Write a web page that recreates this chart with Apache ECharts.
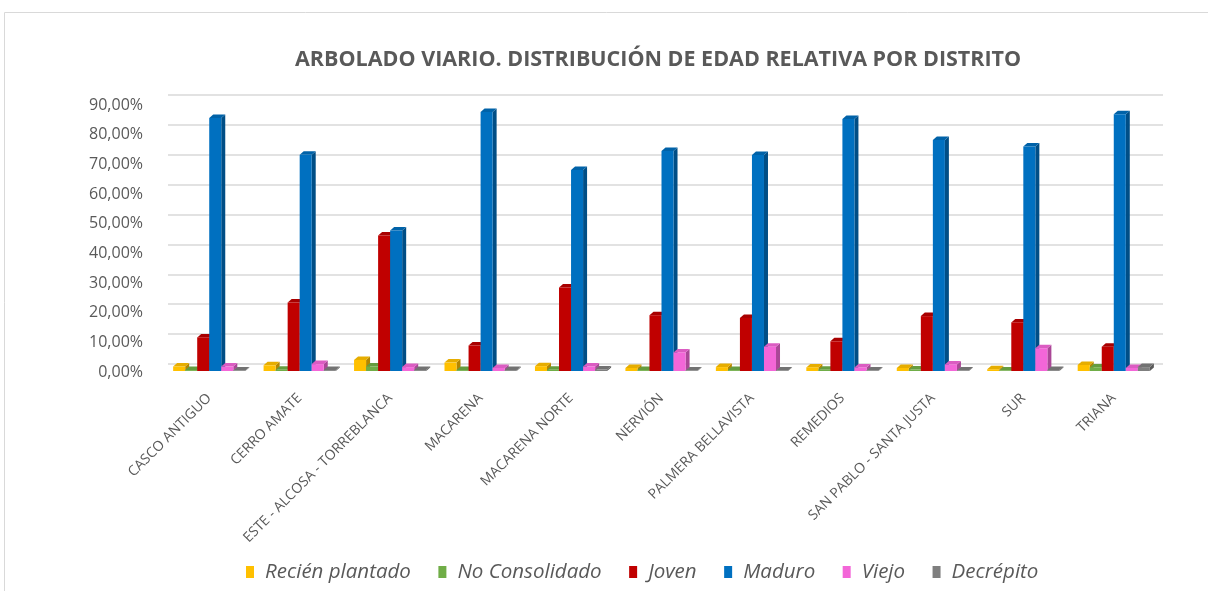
<!DOCTYPE html>
<html>
<head>
<meta charset="utf-8">
<script src="https://cdn.jsdelivr.net/npm/echarts@6/dist/echarts.min.js"></script>
<style>
html,body{margin:0;padding:0;background:#fff;}
#chart{width:1208px;height:591px;}
</style>
</head>
<body>
<div id="chart"></div>
<script>
var categories = ["CASCO ANTIGUO","CERRO AMATE","ESTE - ALCOSA - TORREBLANCA","MACARENA","MACARENA NORTE","NERVIÓN","PALMERA BELLAVISTA","REMEDIOS","SAN PABLO - SANTA JUSTA","SUR","TRIANA"];
var seriesNames = ["Recién plantado","No Consolidado","Joven","Maduro","Viejo","Decrépito"];
var recienPlantado = [1.5, 1.9, 3.7, 2.8, 1.6, 1.0, 1.3, 1.2, 1.0, 0.6, 2.0];
var noConsolidado  = [0.3, 0.4, 1.5, 0.3, 0.4, 0.3, 0.3, 0.4, 0.5, 0.2, 1.2];
var joven          = [11.2, 22.8, 45.2, 8.5, 27.8, 18.6, 17.7, 9.9, 18.3, 16.2, 8.1];
var maduro         = [84.3, 72.1, 46.8, 86.3, 67.0, 73.3, 72.0, 84.0, 77.0, 74.8, 85.6];
var viejo          = [1.5, 2.3, 1.3, 1.0, 1.5, 6.2, 8.1, 1.2, 2.2, 7.6, 1.0];
var decrepito      = [0.2, 0.3, 0.3, 0.3, 0.5, 0.2, 0.2, 0.2, 0.2, 0.3, 1.3];
var yTicks = [0,10,20,30,40,50,60,70,80,90];

var allValues = [recienPlantado, noConsolidado, joven, maduro, viejo, decrepito];
var colors = ["#FFC000","#70AD47","#C00000","#0070C0","#F366D8","#7F7F7F"];
var sideColors = ["#B38600","#4E7932","#860000","#004E86","#AA4797","#595959"];
var topColors = ["#E6AD00","#659C40","#A80000","#0062A8","#DB5CC2","#727272"];

var chart = echarts.init(document.getElementById('chart'));
var font = "'Open Sans', sans-serif";
var textColor = "#595959";

function makeSeries(i){
  var vals = allValues[i];
  var data = vals.map(function(v, k){ return [k, v]; });
  return {
    name: seriesNames[i],
    type: 'custom',
    xAxisIndex: 1,
    yAxisIndex: 1,
    itemStyle: {color: colors[i]},
    data: data,
    renderItem: function(params, api){
      var cat = api.value(0), val = api.value(1);
      var base = api.coord([cat, 0]);
      var top = api.coord([cat, val]);
      var band = api.size([1, 0])[0];
      var w = band * 0.133;
      var groupW = w * 6;
      var x0 = base[0] - groupW / 2 + i * w;
      var x1 = x0 + w;
      var yb = base[1], yt = top[1];
      var dx = 4, dy = 3.5;
      return {
        type: 'group',
        children: [
          {type: 'polygon', shape: {points: [[x1, yt],[x1+dx, yt-dy],[x1+dx, yb-dy],[x1, yb]]}, style: {fill: sideColors[i]}},
          {type: 'polygon', shape: {points: [[x0, yt],[x0+dx, yt-dy],[x1+dx, yt-dy],[x1, yt]]}, style: {fill: topColors[i]}},
          {type: 'rect', shape: {x: x0, y: yt, width: w, height: yb - yt}, style: {fill: colors[i]}}
        ]
      };
    }
  };
}

var series = [];
for (var i = 0; i < 6; i++) series.push(makeSeries(i));

var option = {
  animation: false,
  color: colors,
  title: {
    text: "ARBOLADO VIARIO. DISTRIBUCIÓN DE EDAD RELATIVA POR DISTRITO",
    left: 290,
    top: 44,
    textStyle: {fontFamily: font, fontSize: 21.5, fontWeight: 'bold', color: textColor}
  },
  legend: {
    data: seriesNames,
    top: 557,
    left: 241,
    icon: 'rect',
    itemWidth: 8,
    itemHeight: 12,
    itemGap: 27.5,
    textStyle: {fontFamily: font, fontSize: 20.5, fontStyle: 'italic', color: textColor, padding: [0,0,0,6]}
  },
  graphic: [{
    type: 'rect', silent: true, z: -10,
    shape: {x: 4.5, y: 12.5, width: 1400, height: 800},
    style: {fill: 'none', stroke: '#D9D9D9', lineWidth: 1}
  }],
  grid: [
    {left: 168, right: 45, top: 95, bottom: 227},
    {left: 164, right: 49, top: 101, bottom: 220},
    {left: 164, right: 49, top: 105, bottom: 219}
  ],
  xAxis: [
    {gridIndex: 0, type: 'category', data: categories, show: false},
    {gridIndex: 1, type: 'category', data: categories,
     axisLine: {show: false}, axisTick: {show: false},
     axisLabel: {interval: 0, rotate: 45, margin: 25, fontFamily: font, fontSize: 14, color: textColor}},
    {gridIndex: 2, type: 'category', data: categories, show: false}
  ],
  yAxis: [
    {gridIndex: 0, type: 'value', min: 0, max: 90, interval: 10,
     axisLabel: {show: false}, axisLine: {show: false}, axisTick: {show: false},
     splitLine: {lineStyle: {color: '#D9D9D9', width: 1.5}}},
    {gridIndex: 1, type: 'value', min: 0, max: 90, interval: 10,
     axisLabel: {show: false}, axisLine: {show: false}, axisTick: {show: false}, splitLine: {show: false}},
    {gridIndex: 2, type: 'value', min: 0, max: 90, interval: 10,
     axisLine: {show: false}, axisTick: {show: false}, splitLine: {show: false},
     axisLabel: {margin: 21, fontFamily: font, fontSize: 16, color: textColor,
       formatter: function(v){ return v.toFixed(2).replace('.', ',') + '%'; }}}
  ],
  series: series
};
chart.setOption(option);
</script>
</body>
</html>
